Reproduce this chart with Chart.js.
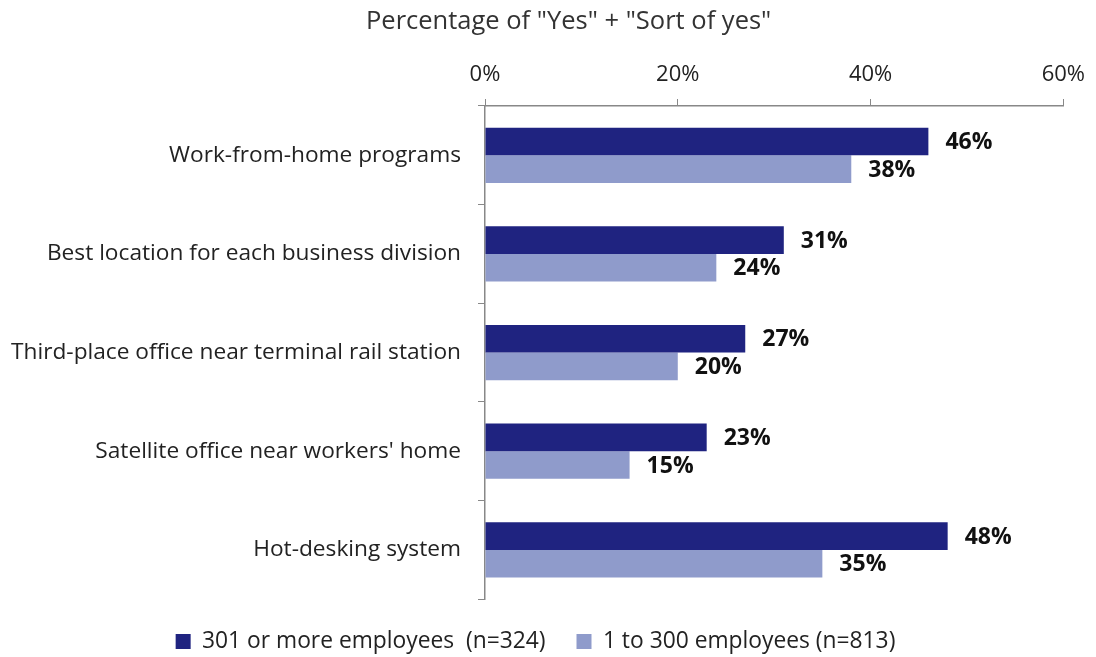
<!DOCTYPE html>
<html lang="en">
<head>
  <meta charset="UTF-8">
  <title>Percentage of "Yes" + "Sort of yes"</title>
  <script src="https://cdn.jsdelivr.net/npm/chart.js"></script>
  <style>
    html, body { margin: 0; padding: 0; background: #ffffff; }
    #wrap { width: 1096px; height: 657px; }
  </style>
</head>
<body>
<div id="wrap"><canvas id="chart"></canvas></div>

<script>
const categories = [
  'Work-from-home programs',
  'Best location for each business division',
  'Third-place office near terminal rail station',
  "Satellite office near workers' home",
  'Hot-desking system'
];
const largeFirms = [46, 31, 27, 23, 48];
const smallFirms = [38, 24, 20, 15, 35];
const seriesNames = ['301 or more employees  (n=324)', '1 to 300 employees (n=813)'];

const FONT = '"Open Sans", sans-serif';

// draws the bold value after each bar
const valueLabels = {
  id: 'valueLabels',
  afterDatasetsDraw(chart) {
    const ctx = chart.ctx;
    ctx.save();
    ctx.font = 'bold 23px ' + FONT;
    ctx.fillStyle = '#111';
    ctx.textBaseline = 'middle';
    chart.data.datasets.forEach((ds, i) => {
      chart.getDatasetMeta(i).data.forEach((bar, j) => {
        ctx.fillText(ds.data[j] + '%', bar.x + 17, bar.y + 1);
      });
    });
    ctx.restore();
  }
};

new Chart(document.getElementById('chart'), {
  type: 'bar',
  data: {
    labels: categories,
    datasets: [
      { label: seriesNames[0], data: largeFirms, backgroundColor: '#1f2380' },
      { label: seriesNames[1], data: smallFirms, backgroundColor: '#8f9bcb' }
    ]
  },
  options: {
    indexAxis: 'y',
    responsive: true,
    maintainAspectRatio: false,
    animation: false,
    categoryPercentage: 0.56,
    barPercentage: 1,
    layout: { padding: { left: 0, right: 25, top: 0, bottom: -6 } },
    scales: {
      x: {
        position: 'top',
        min: 0,
        max: 60,
        ticks: {
          stepSize: 20,
          color: '#222',
          font: { family: FONT, size: 22 },
          padding: 11,
          callback: v => v + '%'
        },
        grid: { drawOnChartArea: false, drawTicks: true, tickLength: 7, color: '#888' },
        border: { color: '#888', width: 1.5 }
      },
      y: {
        afterFit: s => { s.width = 485; },
        ticks: {
          color: '#222',
          font: { family: FONT, size: 22.7 },
          padding: 17
        },
        grid: { drawOnChartArea: false, drawTicks: true, tickLength: 7, color: '#888' },
        border: { color: '#888', width: 1.5 }
      }
    },
    plugins: {
      title: {
        display: true,
        // leading spaces nudge the centred title right, as in the original
        text: '          Percentage of "Yes" + "Sort of yes"',
        color: '#333',
        font: { family: FONT, size: 25.5, weight: 'normal' },
        padding: { top: 6, bottom: 14 }
      },
      legend: {
        position: 'bottom',
        labels: {
          color: '#222',
          font: { family: FONT, size: 22.8 },
          boxWidth: 15,
          boxHeight: 15,
          padding: 31
        }
      },
      tooltip: { enabled: false }
    }
  },
  plugins: [valueLabels]
});
</script>
</body>
</html>
